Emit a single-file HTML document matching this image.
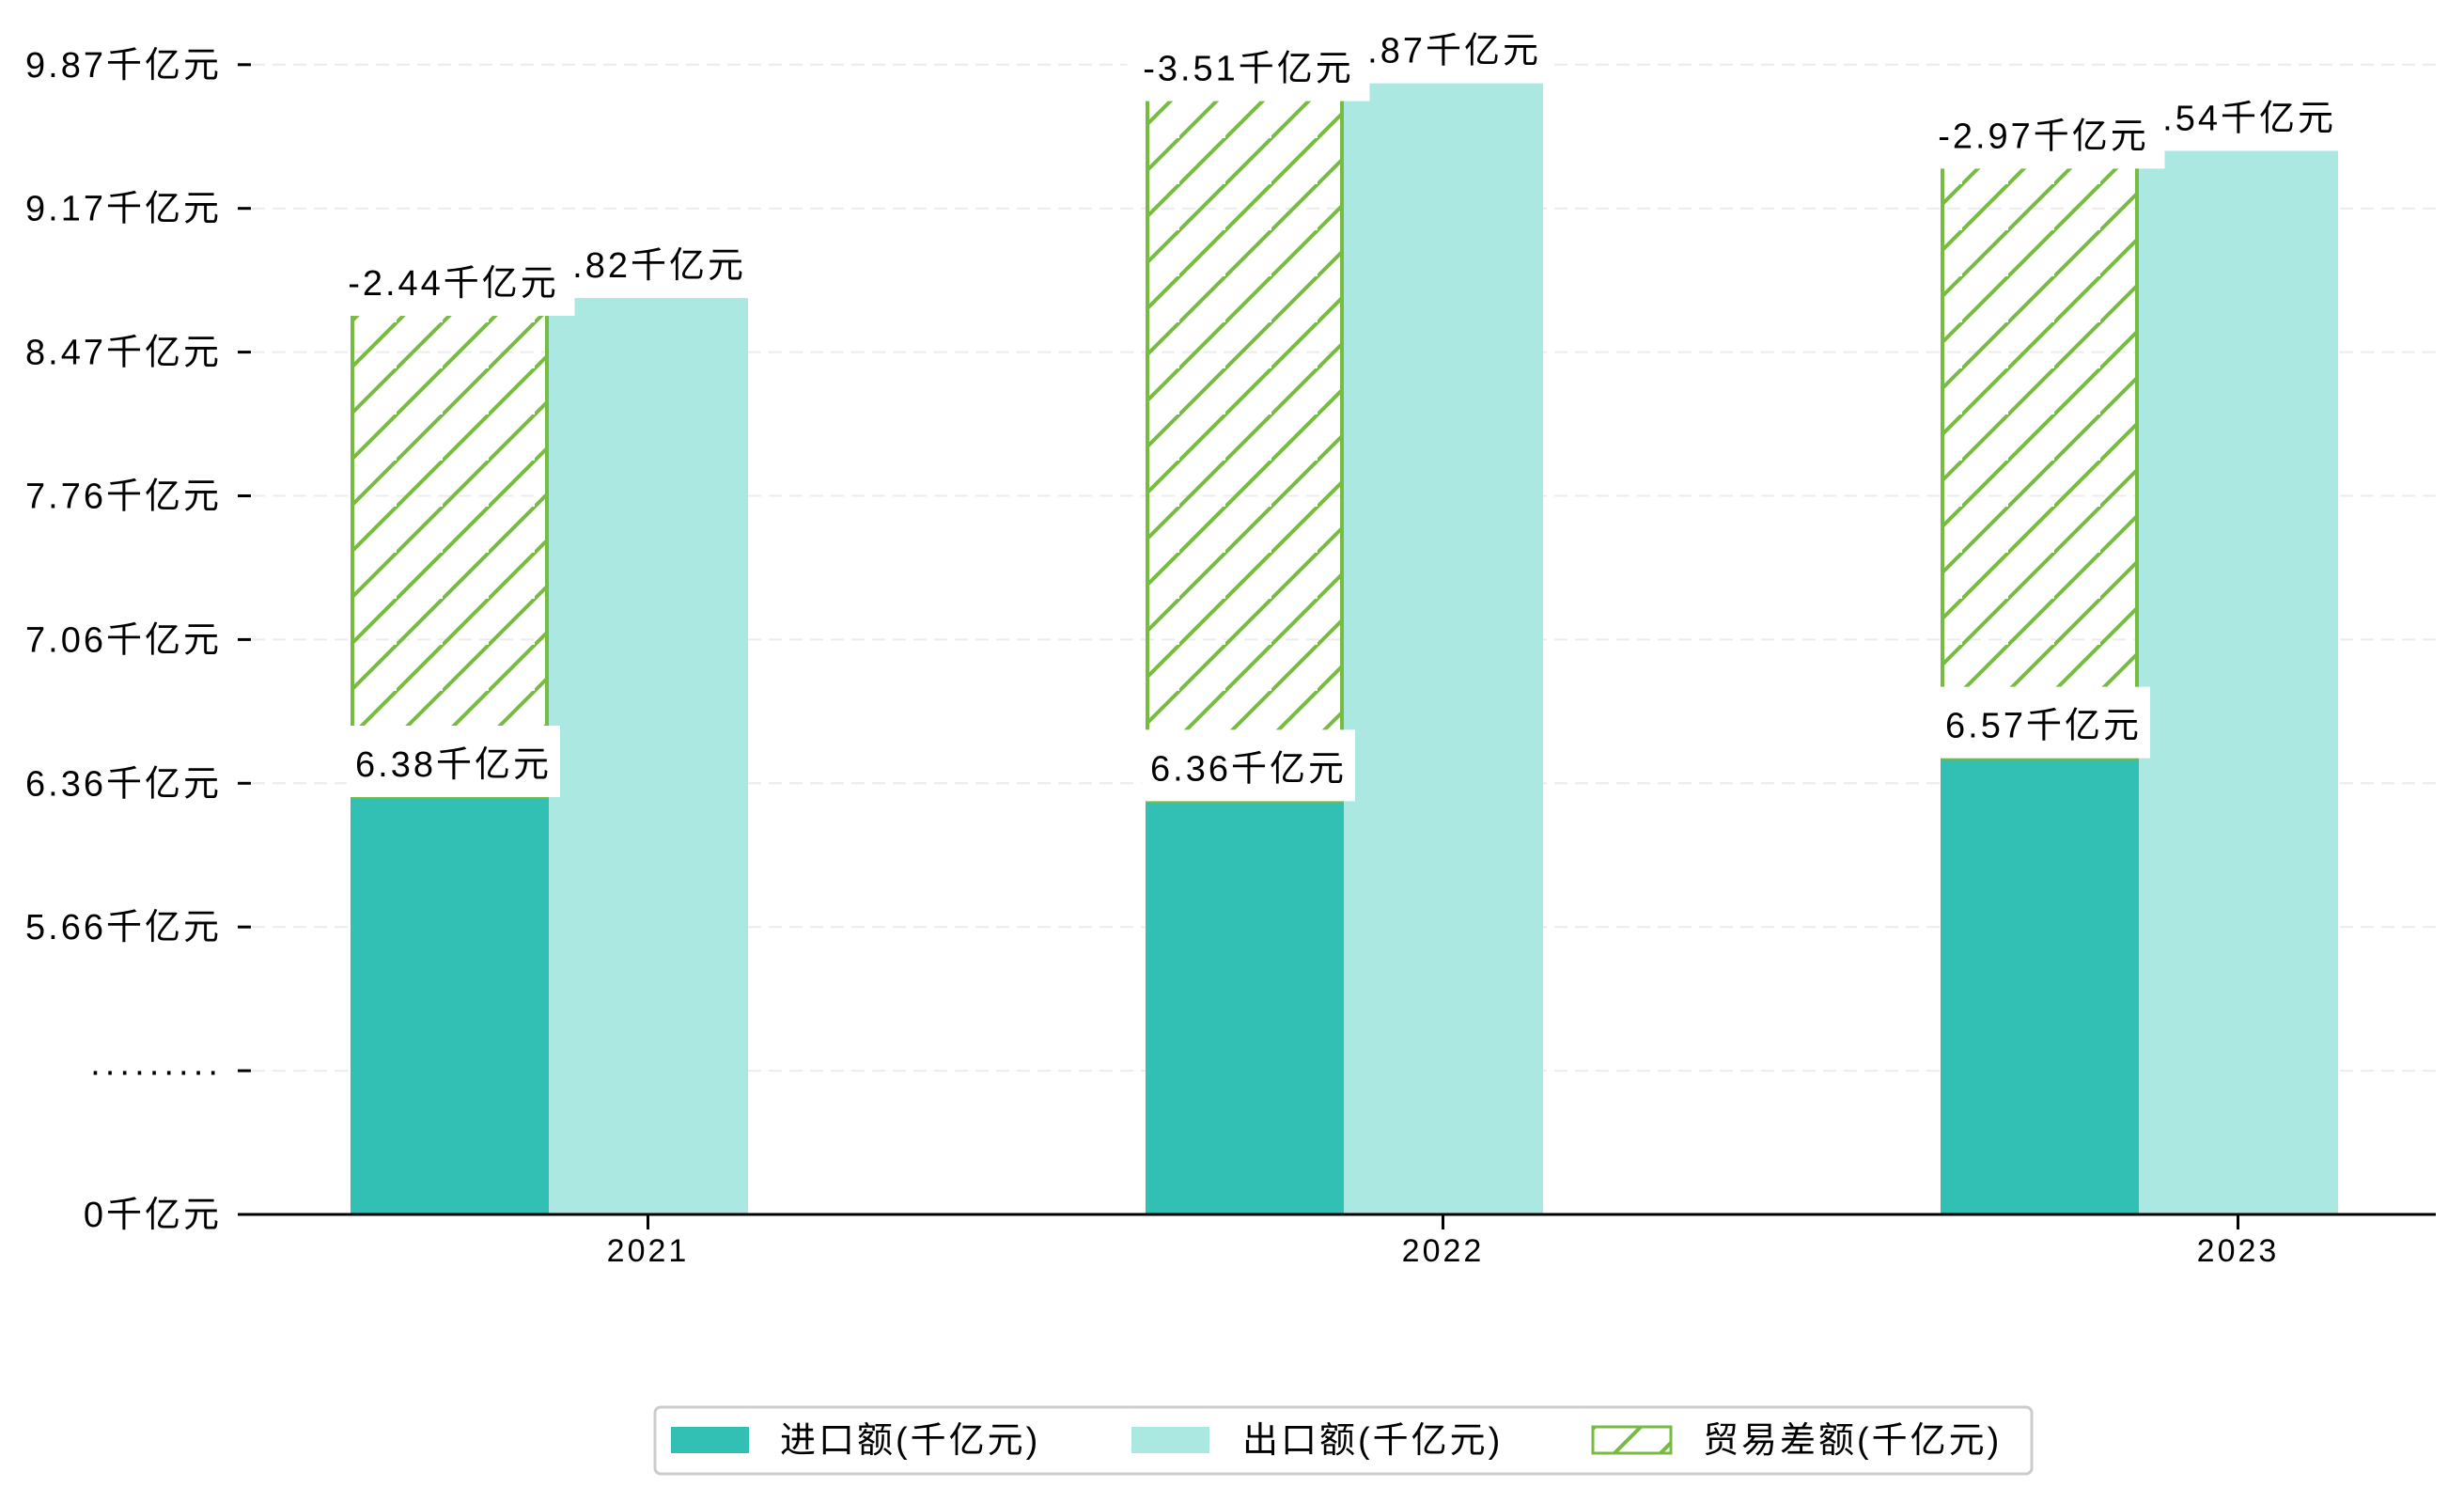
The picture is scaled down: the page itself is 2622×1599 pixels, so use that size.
<!DOCTYPE html>
<html><head><meta charset="utf-8"><style>
html,body{margin:0;padding:0;background:#fff;}
svg{display:block;}
text{font-family:"Liberation Sans","Noto Sans CJK SC","WenQuanYi Zen Hei",sans-serif;fill:#000;letter-spacing:3px;}
</style></head><body>
<svg id="chart" width="2622" height="1599" viewBox="0 0 2622 1599" xmlns="http://www.w3.org/2000/svg">
<defs>
<pattern id="hatch" patternUnits="userSpaceOnUse" width="49" height="49" patternTransform="translate(373,0)">
<path d="M-2,51 L51,-2 M-51,51 L51,-51 M47,100 L100,47 M0,49 L49,0" stroke="#77bb41" stroke-width="4" fill="none"/>
</pattern>
</defs>
<g id="grid"></g>
<g id="bars"></g>
<g id="labels"></g>
<g id="axes"></g>
<g id="legend"></g>
</svg>
<script>
const categories = ["2021", "2022", "2023"];
const importVals = [6.38, 6.36, 6.57];
const exportVals = [8.82, 9.87, 9.54];
const diffVals = [-2.44, -3.51, -2.97];
const tickLabels = ["0千亿元", "·········", "5.66千亿元", "6.36千亿元", "7.06千亿元", "7.76千亿元", "8.47千亿元", "9.17千亿元", "9.87千亿元"];

const NS = "http://www.w3.org/2000/svg";
function mk(tag, attrs, parent) {
  const e = document.createElementNS(NS, tag);
  for (const k in attrs) e.setAttribute(k, attrs[k]);
  parent.appendChild(e);
  return e;
}
const baseY = 1292, tickStep = 152.9;
function y(v) { return Math.min(baseY, 848 - (v - 6.38) * 217.6); }
function xGroup(i) { return 373 + i * 846; }
const barW = 211;

const grid = document.getElementById('grid');
const axes = document.getElementById('axes');
tickLabels.forEach((t, i) => {
  const ty = baseY - i * tickStep;
  if (i > 0) {
    const g = mk('line', {x1: 268, x2: 2592, y1: ty, y2: ty, stroke: '#ececec', 'stroke-width': 2, 'stroke-dasharray': '14,8'}, grid);
    
    
  }
  const tk = mk('line', {x1: 253, x2: 267, y1: ty, y2: ty, stroke: '#000', 'stroke-width': 3}, axes);
  
  
  const lb = mk('text', {x: 236, y: ty + 13, 'text-anchor': 'end', 'font-size': 38}, axes);
  lb.textContent = t;
  
  
});
const base = mk('line', {x1: 253, x2: 2592, y1: baseY, y2: baseY, stroke: '#000', 'stroke-width': 3}, axes);



const bars = document.getElementById('bars');
const labels = document.getElementById('labels');
function label(text, cx, refY) {
  const g = mk('g', {}, labels);
  
  
  const w = text.length * 31 + 10;
  mk('rect', {x: cx - w / 2, y: refY - 76, width: w, height: 76, fill: '#fff'}, g);
  const t = mk('text', {x: cx, y: refY - 22, 'text-anchor': 'middle', 'font-size': 38}, g);
  t.textContent = text;
}
categories.forEach((c, i) => {
  const x0 = xGroup(i);
  const yi = y(importVals[i]);
  const ye = y(exportVals[i]);
  const yd = y(importVals[i] - diffVals[i]);
  const r1 = mk('rect', {x: x0, y: yi, width: barW, height: baseY - yi, fill: '#31c0b3'}, bars);
  
  
  const r2 = mk('rect', {x: x0 + barW, y: ye, width: barW + 1, height: baseY - ye, fill: '#aae8e1'}, bars);
  
  
  const r3 = mk('rect', {x: x0 + 2, y: yd, width: barW - 4, height: yi - yd, fill: 'url(#hatch)', stroke: '#77bb41', 'stroke-width': 4}, bars);
  
  
  const tk = mk('line', {x1: x0 + barW * 1.5, x2: x0 + barW * 1.5, y1: baseY, y2: baseY + 16, stroke: '#000', 'stroke-width': 3}, axes);
  
  
  const xl = mk('text', {x: x0 + barW * 1.5, y: baseY + 50, 'text-anchor': 'middle', 'font-size': 34}, axes);
  xl.textContent = c;
  
  
});
categories.forEach((c, i) => {
  const x0 = xGroup(i);
  label(importVals[i].toFixed(2) + '千亿元', x0 + barW / 2 + 4, y(importVals[i]));
  label(exportVals[i].toFixed(2) + '千亿元', x0 + barW * 1.5, y(exportVals[i]));
  label(diffVals[i].toFixed(2) + '千亿元', x0 + barW / 2 + 4, y(importVals[i] - diffVals[i]) + 19);
});

const legend = document.getElementById('legend');
const lbox = mk('rect', {x: 697, y: 1497, width: 1465, height: 71, rx: 6, fill: '#fff', stroke: '#cccccc', 'stroke-width': 3}, legend);


const legItems = [
  {px: 714, tx: 830, name: '进口额(千亿元)', fill: '#31c0b3'},
  {px: 1204, tx: 1322, name: '出口额(千亿元)', fill: '#aae8e1'},
  {px: 1695, tx: 1812, name: '贸易差额(千亿元)', fill: 'url(#hatch)'}
];
legItems.forEach(it => {
  const g = mk('g', {}, legend);
  
  
  const a = {x: it.px, y: 1518, width: 83, height: 28, fill: it.fill};
  if (it.fill.startsWith('url')) { a.stroke = '#77bb41'; a['stroke-width'] = 3; }
  mk('rect', a, g);
  const t = mk('text', {x: it.tx, y: 1545, 'font-size': 38}, g);
  t.textContent = it.name;
});
</script>
</body></html>
